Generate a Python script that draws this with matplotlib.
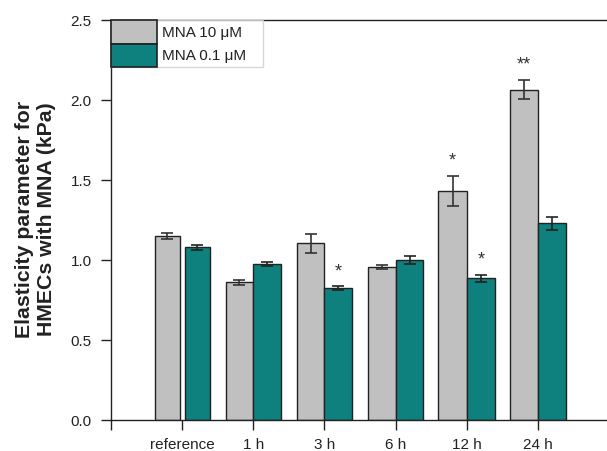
import matplotlib
matplotlib.use('Agg')
import matplotlib.pyplot as plt
from matplotlib.patches import Patch
import numpy as np

plt.rcParams['font.family'] = ['Liberation Sans', 'DejaVu Sans']

# Data
categories = ['reference', '1 h', '3 h', '6 h', '12 h', '24 h']
mna_10 = [1.15, 0.86, 1.105, 0.955, 1.43, 2.065]
mna_10_err = [0.02, 0.015, 0.06, 0.012, 0.095, 0.06]
mna_01 = [1.08, 0.975, 0.825, 1.0, 0.885, 1.23]
mna_01_err = [0.015, 0.012, 0.01, 0.022, 0.02, 0.04]
stars_10 = ['', '', '', '', '*', '**']
stars_01 = ['', '', '*', '', '*', '']

gray = '#c0c0c0'
teal = '#0e807d'
edge = '#222222'

fig = plt.figure(figsize=(6.07, 4.51), dpi=100)
ax = fig.add_axes([111 / 607, 31 / 451, 496 / 607, 400 / 451])

x = np.arange(len(categories))
# reference group was drawn with narrower, separated bars
widths = np.array([0.35, 0.39, 0.39, 0.39, 0.40, 0.40])
offsets = np.array([0.21, 0.195, 0.195, 0.195, 0.20, 0.20])

ax.bar(x - offsets, mna_10, widths, color=gray, edgecolor=edge, linewidth=1.0,
       zorder=2)
ax.bar(x + offsets, mna_01, widths, color=teal, edgecolor=edge, linewidth=1.0,
       zorder=2)
ax.errorbar(x - offsets, mna_10, yerr=mna_10_err, fmt='none', ecolor='#333333',
            elinewidth=1.2, capsize=4, capthick=1.2, zorder=3)
ax.errorbar(x + offsets, mna_01, yerr=mna_01_err, fmt='none', ecolor='#222222',
            elinewidth=1.2, capsize=4, capthick=1.2, zorder=3)

# significance marks
for i in range(len(categories)):
    if stars_10[i]:
        ax.text(x[i] - offsets[i], mna_10[i] + mna_10_err[i] + 0.04, stars_10[i],
                ha='center', va='bottom', fontsize=13, color='#333333')
    if stars_01[i]:
        ax.text(x[i] + offsets[i], mna_01[i] + mna_01_err[i] + 0.04, stars_01[i],
                ha='center', va='bottom', fontsize=13, color='#333333')

ax.set_xlim(-1, 5.97)
ax.set_ylim(0, 2.5)
ax.set_xticks(np.concatenate([[-1], x]))
ax.set_xticklabels([''] + categories)
ax.set_yticks([0.0, 0.5, 1.0, 1.5, 2.0, 2.5])
ax.set_yticklabels(['0.0', '0.5', '1.0', '1.5', '2.0', '2.5'])
ax.tick_params(axis='both', direction='out', length=7, width=1.0,
               labelsize=11, colors='#222222', labelcolor='#222222')
ax.tick_params(axis='x', pad=6)
ax.tick_params(axis='y', pad=7)

for side in ['left', 'bottom', 'top']:
    ax.spines[side].set_color('#222222')
    ax.spines[side].set_linewidth(1.0)
ax.spines['right'].set_visible(False)

fig.text(36 / 607, 1 - 219.5 / 451, 'Elasticity parameter for\nHMECs with MNA (kPa)',
         rotation=90, ha='center', va='center', fontsize=15.3, fontweight='bold',
         color='#222222', linespacing=1.2)

handles = [Patch(facecolor=gray, edgecolor=edge, linewidth=1.2),
           Patch(facecolor=teal, edgecolor=edge, linewidth=1.2)]
leg = ax.legend(handles, ['MNA 10 \u03bcM     ', 'MNA 0.1 \u03bcM    '], loc='upper left',
                bbox_to_anchor=(0.0, 1.0), fontsize=11, frameon=True,
                fancybox=False, borderpad=0.0, borderaxespad=0.0,
                handlelength=3.0, handleheight=2.0, handletextpad=0.35,
                labelspacing=0.0)
leg.get_frame().set_edgecolor('#cccccc')
leg.get_frame().set_linewidth(1.0)
for t in leg.get_texts():
    t.set_color('#222222')

fig.savefig('out.png', dpi=100)
plt.close()
